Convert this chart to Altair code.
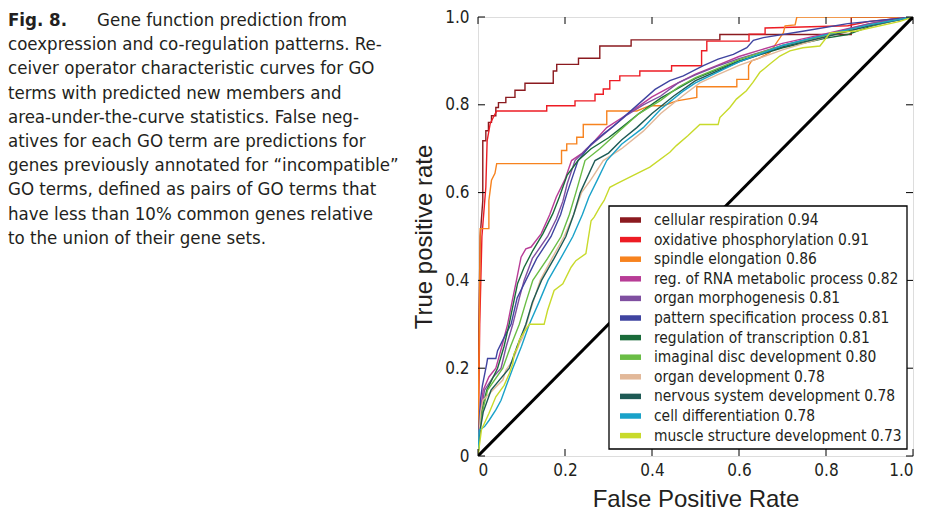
import altair as alt
import pandas as pd

# ---------------- data ----------------
series_labels = [
    "cellular respiration  0.94",
    "oxidative phosphorylation 0.91",
    "spindle elongation 0.86",
    "reg. of RNA metabolic process 0.82",
    "organ morphogenesis 0.81",
    "pattern specification process  0.81",
    "regulation of transcription  0.81",
    "imaginal disc development 0.80",
    "organ development 0.78",
    "nervous system development 0.78",
    "cell differentiation 0.78",
    "muscle structure development 0.73",
]
series_colors = [
    "#8b1a1f", "#ed1c24", "#f7831f", "#b83c96", "#7f4fa0", "#3f44a0",
    "#1a6b3a", "#6abd45", "#e2b899", "#1e5a55", "#1aa2c9", "#c8da2b",
]

cellular_respiration = [(0,0),(0.002,0.3),(0.005,0.5),(0.011,0.582),(0.011,0.718),(0.018,0.718),(0.018,0.741),(0.024,0.741),(0.024,0.76),(0.031,0.76),(0.031,0.775),(0.041,0.775),(0.041,0.794),(0.047,0.794),(0.047,0.805),(0.064,0.805),(0.064,0.817),(0.085,0.817),(0.085,0.833),(0.108,0.833),(0.108,0.849),(0.173,0.849),(0.173,0.877),(0.181,0.877),(0.181,0.892),(0.231,0.892),(0.231,0.906),(0.28,0.906),(0.28,0.934),(0.352,0.934),(0.352,0.948),(0.556,0.948),(0.556,0.96),(0.858,0.96),(0.858,1.0),(1,1)]
oxidative_phosphorylation = [(0,0),(0.004,0.3),(0.009,0.5),(0.018,0.612),(0.021,0.718),(0.028,0.757),(0.035,0.771),(0.043,0.786),(0.158,0.786),(0.158,0.798),(0.223,0.798),(0.223,0.809),(0.269,0.809),(0.269,0.824),(0.288,0.824),(0.288,0.836),(0.303,0.836),(0.303,0.855),(0.326,0.855),(0.326,0.866),(0.372,0.866),(0.372,0.877),(0.445,0.877),(0.445,0.889),(0.514,0.889),(0.514,0.923),(0.526,0.923),(0.526,0.945),(0.623,0.945),(0.623,0.961),(0.66,0.961),(0.66,0.975),(0.85,0.98),(0.9,0.99),(1,1)]
spindle_elongation = [(0,0),(0.003,0.3),(0.005,0.518),(0.025,0.518),(0.025,0.582),(0.028,0.605),(0.031,0.628),(0.039,0.644),(0.043,0.666),(0.192,0.666),(0.192,0.696),(0.204,0.696),(0.204,0.711),(0.227,0.711),(0.227,0.726),(0.242,0.726),(0.242,0.755),(0.296,0.755),(0.296,0.786),(0.365,0.786),(0.395,0.798),(0.426,0.798),(0.457,0.809),(0.503,0.817),(0.503,0.841),(0.595,0.841),(0.595,0.858),(0.622,0.858),(0.622,0.889),(0.629,0.9),(0.648,0.907),(0.671,0.919),(0.702,0.964),(0.706,0.98),(0.729,0.982),(0.733,1.0),(1,1)]
reg_rna_metabolic = [(0,0),(0.003,0.06),(0.005,0.1),(0.012,0.15),(0.025,0.18),(0.041,0.2),(0.055,0.25),(0.068,0.3),(0.078,0.35),(0.087,0.393),(0.099,0.453),(0.11,0.472),(0.122,0.476),(0.145,0.506),(0.165,0.55),(0.18,0.59),(0.2,0.63),(0.215,0.673),(0.24,0.69),(0.27,0.72),(0.296,0.748),(0.33,0.77),(0.36,0.79),(0.4,0.818),(0.45,0.845),(0.5,0.87),(0.55,0.89),(0.6,0.91),(0.65,0.925),(0.7,0.94),(0.8,0.962),(0.9,0.985),(0.95,0.995),(1,1)]
organ_morphogenesis = [(0,0),(0.004,0.07),(0.007,0.1),(0.015,0.15),(0.035,0.18),(0.053,0.2),(0.065,0.25),(0.08,0.3),(0.095,0.36),(0.106,0.4),(0.125,0.45),(0.16,0.5),(0.18,0.54),(0.195,0.58),(0.205,0.62),(0.223,0.673),(0.25,0.7),(0.28,0.725),(0.307,0.748),(0.34,0.775),(0.38,0.8),(0.42,0.82),(0.46,0.85),(0.5,0.868),(0.55,0.888),(0.6,0.905),(0.7,0.935),(0.8,0.96),(0.9,0.985),(1,1)]
pattern_specification = [(0,0),(0.003,0.08),(0.006,0.13),(0.01,0.16),(0.02,0.21),(0.022,0.222),(0.041,0.222),(0.045,0.24),(0.055,0.26),(0.065,0.28),(0.076,0.3),(0.09,0.36),(0.11,0.4),(0.135,0.45),(0.168,0.5),(0.19,0.55),(0.205,0.6),(0.23,0.673),(0.26,0.71),(0.29,0.735),(0.31,0.75),(0.35,0.785),(0.407,0.835),(0.441,0.855),(0.472,0.866),(0.518,0.889),(0.552,0.904),(0.587,0.915),(0.618,0.93),(0.633,0.947),(0.656,0.953),(0.75,0.968),(0.85,0.985),(1,1)]
regulation_transcription = [(0,0),(0.004,0.06),(0.008,0.1),(0.02,0.15),(0.045,0.2),(0.06,0.25),(0.072,0.302),(0.083,0.355),(0.091,0.393),(0.106,0.43),(0.126,0.468),(0.149,0.506),(0.172,0.552),(0.187,0.59),(0.205,0.64),(0.23,0.673),(0.26,0.7),(0.3,0.725),(0.33,0.748),(0.37,0.78),(0.42,0.815),(0.5,0.86),(0.55,0.88),(0.6,0.9),(0.7,0.93),(0.8,0.952),(0.85,0.96),(0.9,0.978),(0.95,0.99),(1,1)]
imaginal_disc = [(0,0),(0.005,0.06),(0.01,0.1),(0.022,0.15),(0.057,0.2),(0.075,0.25),(0.095,0.3),(0.11,0.35),(0.126,0.4),(0.16,0.45),(0.191,0.5),(0.21,0.55),(0.225,0.6),(0.246,0.673),(0.28,0.7),(0.33,0.745),(0.37,0.78),(0.42,0.81),(0.46,0.84),(0.5,0.862),(0.6,0.903),(0.7,0.935),(0.8,0.958),(0.9,0.982),(1,1)]
organ_development = [(0,0),(0.004,0.07),(0.006,0.1),(0.011,0.127),(0.026,0.142),(0.041,0.157),(0.057,0.173),(0.064,0.195),(0.08,0.218),(0.095,0.256),(0.103,0.271),(0.12,0.33),(0.143,0.4),(0.17,0.45),(0.198,0.5),(0.22,0.55),(0.238,0.6),(0.26,0.63),(0.288,0.673),(0.33,0.7),(0.38,0.74),(0.42,0.78),(0.47,0.82),(0.51,0.85),(0.55,0.868),(0.6,0.89),(0.7,0.925),(0.8,0.955),(0.9,0.98),(1,1)]
nervous_system = [(0,0),(0.005,0.06),(0.012,0.1),(0.03,0.15),(0.072,0.2),(0.09,0.25),(0.11,0.3),(0.125,0.35),(0.146,0.4),(0.175,0.45),(0.202,0.5),(0.22,0.55),(0.235,0.6),(0.269,0.673),(0.3,0.69),(0.33,0.72),(0.365,0.748),(0.4,0.78),(0.45,0.82),(0.5,0.855),(0.6,0.898),(0.7,0.932),(0.8,0.955),(0.9,0.98),(1,1)]
cell_differentiation = [(0,0),(0.003,0.059),(0.015,0.067),(0.026,0.082),(0.041,0.105),(0.053,0.127),(0.064,0.157),(0.08,0.2),(0.1,0.25),(0.118,0.3),(0.14,0.35),(0.161,0.4),(0.19,0.45),(0.218,0.5),(0.24,0.55),(0.255,0.59),(0.275,0.63),(0.296,0.673),(0.33,0.71),(0.38,0.748),(0.42,0.79),(0.47,0.83),(0.5,0.85),(0.6,0.898),(0.7,0.935),(0.8,0.96),(0.9,0.982),(1,1)]
muscle_structure = [(0,0),(0.008,0.06),(0.025,0.097),(0.041,0.135),(0.06,0.161),(0.072,0.188),(0.08,0.21),(0.083,0.233),(0.091,0.248),(0.095,0.264),(0.106,0.282),(0.118,0.3),(0.152,0.3),(0.16,0.332),(0.175,0.377),(0.195,0.392),(0.214,0.43),(0.225,0.445),(0.248,0.461),(0.26,0.536),(0.267,0.544),(0.28,0.567),(0.29,0.582),(0.303,0.612),(0.318,0.62),(0.357,0.639),(0.395,0.658),(0.441,0.692),(0.456,0.707),(0.483,0.73),(0.51,0.755),(0.552,0.755),(0.556,0.771),(0.579,0.794),(0.594,0.813),(0.617,0.832),(0.632,0.851),(0.648,0.874),(0.671,0.893),(0.694,0.911),(0.717,0.923),(0.747,0.93),(0.786,0.934),(0.801,0.953),(0.809,0.964),(0.87,0.968),(0.97,0.99),(1,1)]

series_points = [cellular_respiration, oxidative_phosphorylation, spindle_elongation,
                 reg_rna_metabolic, organ_morphogenesis, pattern_specification,
                 regulation_transcription, imaginal_disc, organ_development,
                 nervous_system, cell_differentiation, muscle_structure]

tick_values = [0, 0.2, 0.4, 0.6, 0.8, 1.0]
diagonal = [(0, 0), (1, 1)]

caption_head = "Fig. 8."
caption_first = "Gene function prediction from"
caption_rest = [
    "coexpression and co-regulation patterns. Re-",
    "ceiver operator characteristic curves for GO",
    "terms with predicted new members and",
    "area-under-the-curve statistics. False neg-",
    "atives for each GO term are predictions for",
    "genes previously annotated for \u201cincompatible\u201d",
    "GO terms, defined as pairs of GO terms that",
    "have less than 10% common genes relative",
    "to the union of their gene sets.",
]

# ---------------- tables ----------------
rows = []
for k, (lab, pts) in enumerate(zip(series_labels, series_points)):
    for i, (fx, ty) in enumerate(pts):
        rows.append({"label": lab, "layer": k, "i": i, "fpr": fx, "tpr": ty})
df = pd.DataFrame(rows)
diag_df = pd.DataFrame(diagonal, columns=["fpr", "tpr"])
ticks_df = pd.DataFrame({"v": tick_values})
legend_df = pd.DataFrame({"label": series_labels})

NARROW = "DejaVu Sans Condensed, Liberation Sans Narrow, sans-serif"
SANS = "Liberation Sans, Arial, Helvetica, sans-serif"
INK = "#231f20"

xs = alt.Scale(domain=[0, 1], nice=False, zero=False)
ys = alt.Scale(domain=[0, 1], nice=False, zero=False)
cs = alt.Scale(domain=series_labels, range=series_colors)
lab_expr = "datum.value == 0 ? '0' : format(datum.value, '.1f')"

curves = alt.Chart(df).mark_line(strokeWidth=1.4, clip=True).encode(
    x=alt.X("fpr:Q", scale=xs, title="False Positive Rate",
            axis=alt.Axis(values=tick_values, labelExpr=lab_expr, tickSize=0, domain=False,
                          grid=False, labelFont=NARROW, labelFontSize=17, labelColor=INK,
                          labelPadding=6, titleFont=SANS, titleFontSize=24,
                          titleFontWeight="normal", titleColor=INK, titlePadding=9)),
    y=alt.Y("tpr:Q", scale=ys, title="True positive rate",
            axis=alt.Axis(values=tick_values, labelExpr=lab_expr, tickSize=0, domain=False,
                          grid=False, labelFont=NARROW, labelFontSize=17, labelColor=INK,
                          labelPadding=9, titleFont=SANS, titleFontSize=24,
                          titleFontWeight="normal", titleColor=INK, titlePadding=8)),
    color=alt.Color("label:N", scale=cs, legend=None),
    order=alt.Order("i:Q"),
    detail="layer:N",
)

diag = alt.Chart(diag_df).mark_line(color="black", strokeWidth=3, clip=True).encode(
    x=alt.X("fpr:Q", scale=xs), y=alt.Y("tpr:Q", scale=ys, axis=None))

tb = alt.Chart(ticks_df).mark_rule(color="black", strokeWidth=1)
ticks = alt.layer(
    tb.encode(x=alt.X("v:Q", scale=xs), y=alt.value(439), y2=alt.value(432)),
    tb.encode(x=alt.X("v:Q", scale=xs), y=alt.value(0), y2=alt.value(7)),
    tb.encode(y=alt.Y("v:Q", scale=ys, axis=None), x=alt.value(0), x2=alt.value(7)),
    tb.encode(y=alt.Y("v:Q", scale=ys, axis=None), x=alt.value(435), x2=alt.value(428)),
)

# legend drawn from the series list
row_scale = alt.Scale(type="point", domain=series_labels, range=[203, 418.6], padding=0)
legend_box = alt.Chart(pd.DataFrame({"a": [0]})).mark_rect(
    fill="white", stroke="black", strokeWidth=1.3).encode(
    x=alt.value(131), x2=alt.value(429), y=alt.value(189), y2=alt.value(432))
legend_swatch = alt.Chart(legend_df).mark_rule(strokeWidth=5.5).encode(
    y=alt.Y("label:N", scale=row_scale, axis=None),
    x=alt.value(142), x2=alt.value(163),
    color=alt.Color("label:N", scale=cs, legend=None))
legend_text = alt.Chart(legend_df).mark_text(
    align="left", baseline="middle", font=NARROW, fontSize=15.4, color=INK).encode(
    y=alt.Y("label:N", scale=row_scale, axis=None),
    x=alt.value(176), text="label:N")
legend = alt.layer(legend_box, legend_swatch, legend_text).resolve_scale(y="independent")

CAP = 18.5
cap_base = alt.Chart(pd.DataFrame({"a": [0]}))
cap1 = cap_base.mark_text(align="left", baseline="alphabetic", font=NARROW, fontSize=CAP,
                          fontWeight="bold", color=INK).encode(
    x=alt.value(-470), y=alt.value(9), text=alt.value(caption_head))
cap2 = cap_base.mark_text(align="left", baseline="alphabetic", font=NARROW, fontSize=CAP,
                          color=INK).encode(
    x=alt.value(-381), y=alt.value(9), text=alt.value(caption_first))
cap3 = cap_base.mark_text(align="left", baseline="alphabetic", font=NARROW, fontSize=CAP,
                          lineHeight=24.2, color=INK).encode(
    x=alt.value(-470), y=alt.value(33.2), text=alt.value(caption_rest))

chart = alt.layer(curves, diag, ticks, legend, cap1, cap2, cap3).resolve_scale(
    y="independent"
).properties(
    width=435, height=439,
    autosize=alt.AutoSizeParams(type="none"),
    padding={"left": 470, "top": 9, "right": 5, "bottom": 56},
).configure_view(stroke="black", strokeWidth=1.6).configure(background="white")

chart.save("out.html", embed_options={"renderer": "svg", "actions": False})
